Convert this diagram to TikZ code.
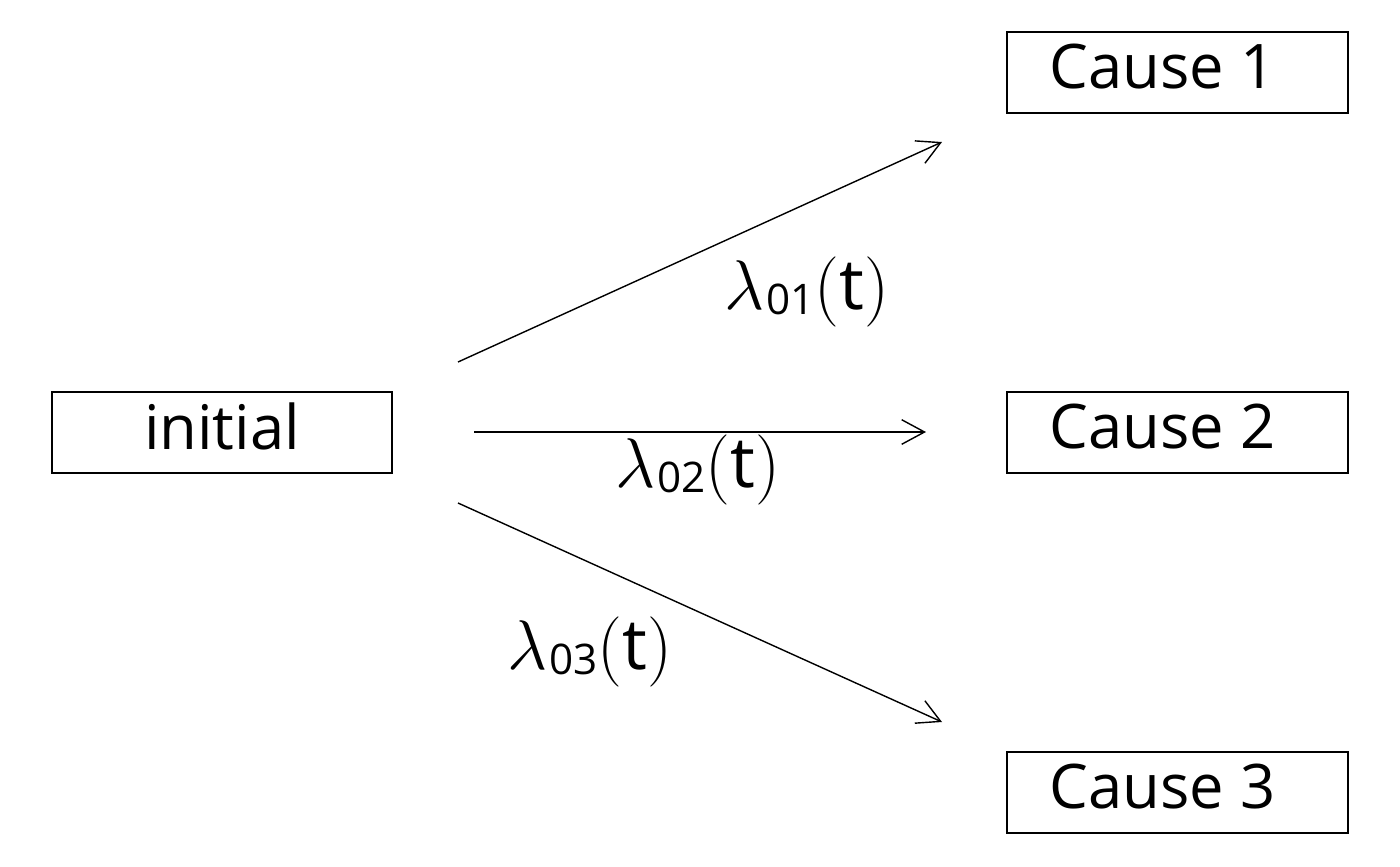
\documentclass[tikz,border=0pt]{standalone}
\usepackage{fix-cm}
\usepackage{fontspec}
\setmainfont{Open Sans}
\usetikzlibrary{arrows.meta}
\newcommand{\lam}[1]{$\lambda$\kern1pt{\fontsize{24}{26}\selectfont\raisebox{-3pt}{#1}}$($t$)$}
\newcommand{\boxtext}[1]{\raisebox{7pt}{#1}}
\tikzset{
  box/.style={draw, line width=0.9pt, minimum width=6.8cm, minimum height=1.62cm, inner sep=0pt, font=\fontsize{35}{40}\selectfont},
  arr/.style={line width=0.8pt, -{Straight Barb[length=13pt, width=14pt, line width=0.8pt]}},
  lab/.style={font=\fontsize{40}{44}\selectfont, inner sep=0pt}
}
\begin{document}
\begin{tikzpicture}[x=0.02cm, y=-0.02cm]
\useasboundingbox (0,0) rectangle (1400,866);
\node[box] (init) at (222,432.5) {\boxtext{initial}};
\node[box, minimum width=6.82cm] (c1) at (1177.5,72.5) {\boxtext{Cause 1}\kern0.6cm};
\node[box, minimum width=6.82cm] (c2) at (1177.5,432.5) {\boxtext{Cause 2}\kern0.6cm};
\node[box, minimum width=6.82cm] (c3) at (1177.5,792.5) {\boxtext{Cause 3}\kern0.6cm};
\coordinate (s1) at (458,362);
\coordinate (e1) at (942,142);
\coordinate (s2) at (474,432);
\coordinate (e2) at (926,432);
\coordinate (s3) at (458,503);
\coordinate (e3) at (942,722);
\draw[arr] (s1) -- (e1);
\draw[arr] (s2) -- (e2);
\draw[arr] (s3) -- (e3);
\node[lab] (l1) at (807,292) {\lam{01}};
\node[lab] (l2) at (698,470) {\lam{02}};
\node[lab] (l3) at (590,652) {\lam{03}};
\end{tikzpicture}
\end{document}
